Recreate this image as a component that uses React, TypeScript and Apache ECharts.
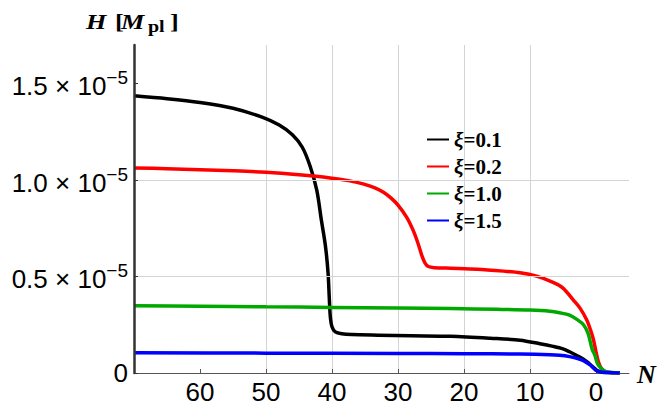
import React, { useEffect, useRef } from "react";
import * as echarts from "echarts";

// N (e-folds) and H (in units of 10^-5 M_pl)
const nBlack = [70, 65, 60, 55, 50.5, 48, 46, 44.5, 43.3, 42.3, 41.6, 41.0, 40.6, 40.4, 40.25, 40.0, 39.5, 38.5, 37, 33, 28, 22, 16, 11.5, 8.5, 6.5, 5, 4, 3, 1.9, 1, 0.4, -0.1, -0.7, -1.5, -3.6];
const hBlack = [1.437, 1.422, 1.402, 1.372, 1.325, 1.285, 1.235, 1.17, 1.07, 0.946, 0.79, 0.66, 0.52, 0.38, 0.29, 0.24, 0.213, 0.203, 0.199, 0.196, 0.193, 0.19, 0.18, 0.17, 0.152, 0.138, 0.125, 0.11, 0.092, 0.072, 0.048, 0.03, 0.014, 0.006, 0.002, 0];

const nRed = [70, 65, 60, 55, 50, 45, 40.3, 37.5, 35.3, 33.5, 32.2, 31, 30, 28.7, 27.7, 27.0, 26.4, 25.9, 25.4, 24.5, 22, 18, 14, 11.5, 9, 6.5, 5, 3.4, 2.4, 1.4, 0.8, 0.4, 0, -0.35, -0.8, -1.4, -2.2, -3.6];
const hRed = [1.063, 1.059, 1.054, 1.048, 1.04, 1.027, 1.011, 0.997, 0.98, 0.96, 0.937, 0.905, 0.87, 0.808, 0.739, 0.675, 0.61, 0.57, 0.552, 0.546, 0.543, 0.538, 0.528, 0.52, 0.502, 0.47, 0.44, 0.377, 0.335, 0.275, 0.22, 0.175, 0.11, 0.06, 0.025, 0.008, 0.002, 0];

const nGreen = [70, 60, 50, 40, 30, 22, 15, 10, 7, 5.5, 4, 2.9, 1.9, 1.2, 0.6, 0.15, -0.2, -0.6, -1.1, -1.6, -2.5, -3.6];
const hGreen = [0.348, 0.346, 0.343, 0.34, 0.337, 0.334, 0.33, 0.326, 0.32, 0.312, 0.3, 0.278, 0.25, 0.205, 0.125, 0.09, 0.05, 0.03, 0.014, 0.006, 0.002, 0];

const nBlue = [70, 50, 30, 20, 11.5, 7, 5.5, 4, 2.9, 1.9, 0.9, 0.4, -0.1, -0.8, -1.5, -3.6];
const hBlue = [0.105, 0.103, 0.101, 0.1, 0.098, 0.095, 0.092, 0.085, 0.076, 0.064, 0.042, 0.026, 0.012, 0.005, 0.002, 0];

const seriesNames = ["ξ=0.1", "ξ=0.2", "ξ=1.0", "ξ=1.5"];
const seriesColors = ["#000000", "#ff0000", "#00a800", "#0000ff"];
const xTickValues = [0, 10, 20, 30, 40, 50, 60];
const yTickValues = [0, 0.5, 1.0, 1.5];

const zip = (xs: number[], ys: number[]) => xs.map((x, i) => [x, ys[i]]);

export default function App() {
  const ref = useRef<HTMLDivElement>(null);
  useEffect(() => {
    if (!ref.current) return;
    const chart = echarts.init(ref.current, null, { renderer: "svg" });
    const datasets = [zip(nBlack, hBlack), zip(nRed, hRed), zip(nGreen, hGreen), zip(nBlue, hBlue)];
    const serif = "'Liberation Serif', 'DejaVu Serif', serif";
    const sans = "'Liberation Sans', Arial, sans-serif";
    const mid = { verticalAlign: "middle", textVerticalAlign: "middle", fill: "#000" };
    chart.setOption({
      animation: false,
      backgroundColor: "#ffffff",
      grid: { left: 134, right: 31, top: 45, bottom: 33, containLabel: false },
      legend: {
        orient: "vertical",
        left: 422,
        top: 124,
        itemWidth: 22,
        itemHeight: 2,
        itemGap: 6,
        icon: "rect",
        data: seriesNames,
        formatter: (name: string) => `{x|ξ}{t|${name.slice(1)}}`,
        textStyle: {
          color: "#000",
          rich: {
            x: { fontFamily: serif, fontStyle: "italic", fontWeight: "bold", fontSize: 21, lineHeight: 20, color: "#000" },
            t: { fontFamily: serif, fontWeight: "bold", fontSize: 21, lineHeight: 20, color: "#000" },
          },
        },
      },
      xAxis: {
        type: "value",
        inverse: true,
        min: -5,
        max: 70,
        splitNumber: 8,
        z: 0,
        axisLine: { show: true, onZero: false, lineStyle: { color: "#555", width: 1 } },
        axisTick: { show: true, inside: true, length: 4, customValues: xTickValues, lineStyle: { color: "#555" } },
        axisLabel: {
          customValues: xTickValues,
          formatter: (v: number) => (v === 70 || v === -5 ? "" : String(v)),
          color: "#000",
          fontFamily: sans,
          fontSize: 26,
          margin: 6,
        },
        splitLine: { show: true, showMinLine: false, showMaxLine: false, lineStyle: { color: "#d4d4d4", width: 1 } },
      },
      yAxis: {
        type: "value",
        min: 0,
        max: 1.7,
        interval: 0.5,
        z: 10,
        axisLine: { show: true, onZero: false, lineStyle: { color: "#333", width: 2.5 } },
        axisTick: { show: true, inside: true, length: 4, customValues: yTickValues, lineStyle: { color: "#333" } },
        axisLabel: {
          customValues: yTickValues,
          margin: 6,
          formatter: (v: number) => (v === 0 ? "{z|0}" : `{m|${v.toFixed(1)} × 10}{s|−5}`),
          rich: {
            z: { fontFamily: sans, fontSize: 26, color: "#000" },
            m: { fontFamily: sans, fontSize: 26, color: "#000", padding: [5, 0, 0, 0], verticalAlign: "bottom" },
            s: { fontFamily: sans, fontSize: 19, color: "#000", verticalAlign: "top" },
          },
        },
        splitLine: { show: true, showMinLine: false, showMaxLine: false, lineStyle: { color: "#d4d4d4", width: 1 } },
      },
      graphic: [
        { type: "text", x: 86, y: 21.5, scaleX: 1.25, style: { ...mid, text: "H", font: `italic bold 21px ${serif}` } },
        { type: "text", x: 115, y: 21.5, scaleX: 1.25, style: { ...mid, text: "[", font: `bold 21px ${serif}` } },
        { type: "text", x: 121, y: 21.5, scaleX: 1.25, style: { ...mid, text: "M", font: `italic bold 21px ${serif}` } },
        { type: "text", x: 148, y: 27, scaleX: 1.25, style: { ...mid, text: "pl", font: `bold 16px ${serif}` } },
        { type: "text", x: 170, y: 21.5, scaleX: 1.25, style: { ...mid, text: "]", font: `bold 21px ${serif}` } },
        { type: "text", x: 637, y: 374, style: { ...mid, text: "N", font: `italic bold 26px ${serif}` } },
      ],
      series: datasets.map((d, i) => ({
        name: seriesNames[i],
        type: "line",
        data: d,
        showSymbol: false,
        symbol: "none",
        smooth: 0.3,
        color: seriesColors[i],
        lineStyle: { color: seriesColors[i], width: 3.5 },
        z: 2 + i,
      })),
    });
    return () => chart.dispose();
  }, []);
  return <div ref={ref} style={{ width: 660, height: 406, position: "absolute", left: 0, top: 0 }} />;
}
